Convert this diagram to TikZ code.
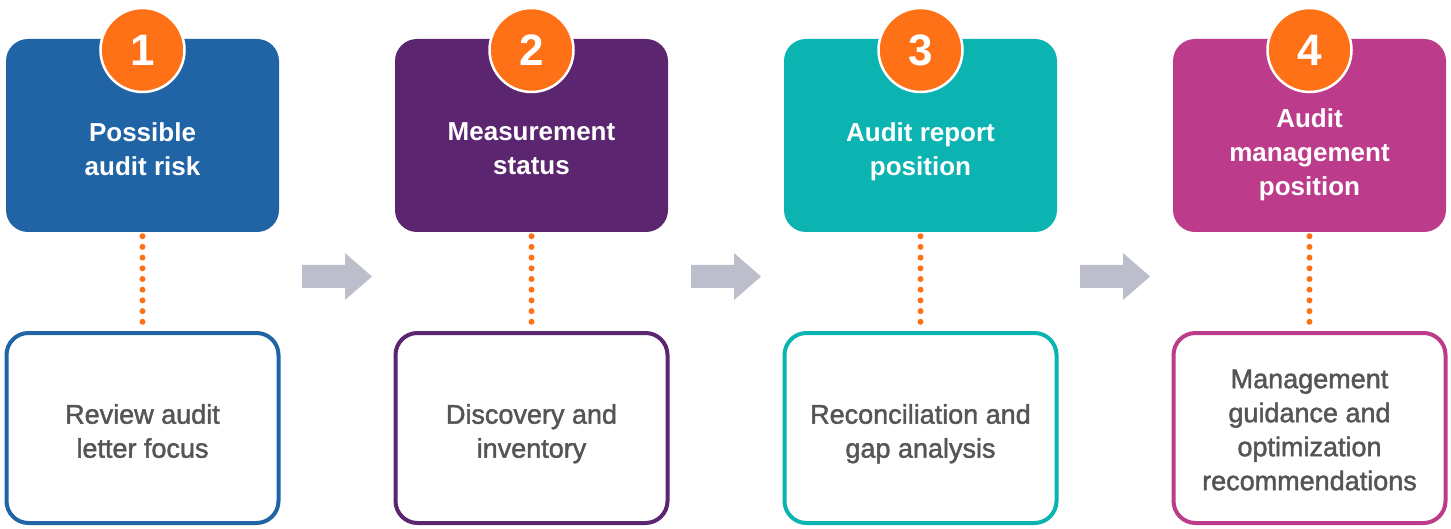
\documentclass[tikz,border=0pt]{standalone}
\usepackage{fontspec}
\setmainfont{Liberation Sans}
\newfontfamily\taskfont{Liberation Sans}[FakeBold=1.6]
\definecolor{stepblue}{HTML}{2064A5}
\definecolor{steppurple}{HTML}{5C2570}
\definecolor{stepteal}{HTML}{0BB3B1}
\definecolor{stepmagenta}{HTML}{BD3B8B}
\definecolor{badgeorange}{HTML}{FF7117}
\definecolor{arrowgray}{HTML}{BCBECB}
\definecolor{textgray}{HTML}{555555}

\begin{document}
\begin{tikzpicture}[x=1pt,y=-1pt,
        headbox/.style={rectangle,rounded corners=22pt,minimum width=273pt,minimum height=193pt,inner sep=0pt},
        taskbox/.style={rectangle,rounded corners=22pt,draw,line width=4pt,fill=white,minimum width=272pt,minimum height=190pt,inner sep=0pt},
        badge/.style={circle,fill=badgeorange,draw=white,line width=2.5pt,minimum size=84pt,inner sep=0pt,text=white,font=\fontsize{44}{44}\selectfont\bfseries},
        headtext/.style={text=white,align=center,inner sep=0pt,font=\fontsize{26}{34}\selectfont\bfseries,execute at begin node=\strut,execute at end node=\strut},
        tasktext/.style={text=textgray,align=center,inner sep=0pt,font=\fontsize{27}{34}\taskfont,execute at begin node=\strut,execute at end node=\strut},
        dots/.style={draw=badgeorange,line width=6pt,line cap=round,dash pattern=on 0pt off 10.7pt,shorten >=7pt,shorten <=4pt},
        flow/.style={fill=arrowgray}]
        \useasboundingbox (0,0) rectangle (1451,529);
        \node[headbox,fill=stepblue] (h1) at (142.5,135.5) {};
        \node[headbox,fill=steppurple] (h2) at (531.5,135.5) {};
        \node[headbox,fill=stepteal] (h3) at (920.5,135.5) {};
        \node[headbox,fill=stepmagenta] (h4) at (1309.5,135.5) {};
        \node[taskbox,draw=stepblue] (b1) at (142.5,428) {};
        \node[taskbox,draw=steppurple] (b2) at (531.5,428) {};
        \node[taskbox,draw=stepteal] (b3) at (920.5,428) {};
        \node[taskbox,draw=stepmagenta] (b4) at (1309.5,428) {};
        \draw[dots] (h1.south) -- (b1.north);
        \draw[dots] (h2.south) -- (b2.north);
        \draw[dots] (h3.south) -- (b3.north);
        \draw[dots] (h4.south) -- (b4.north);
        \node[badge] (n1) at (142.5,50) {1};
        \node[badge] (n2) at (531.5,50) {2};
        \node[badge] (n3) at (920.5,50) {3};
        \node[badge] (n4) at (1309.5,50) {4};
        \node[headtext] (ht1) at (142.5,154) {Possible\\audit risk};
        \node[headtext] (ht2) at (531.5,154) {Measurement\\status};
        \node[headtext] (ht3) at (920.5,154) {Audit report\\position};
        \node[headtext] (ht4) at (1309.5,157) {Audit\\management\\position};
        \node[tasktext] (bt1) at (142.5,436) {Review audit\\letter focus};
        \node[tasktext] (bt2) at (531.5,436) {Discovery and\\inventory};
        \node[tasktext] (bt3) at (920.5,436) {Reconciliation and\\gap analysis};
        \node[tasktext] (bt4) at (1309.5,435) {Management\\guidance and\\optimization\\recommendations};
        \foreach \dx in {0,389,778}
            \fill[flow,xshift=\dx pt] (302,265) -- (345,265) -- (345,253) -- (372,276.5) -- (345,300) -- (345,288) -- (302,288) -- cycle;
    \end{tikzpicture}
\end{document}
